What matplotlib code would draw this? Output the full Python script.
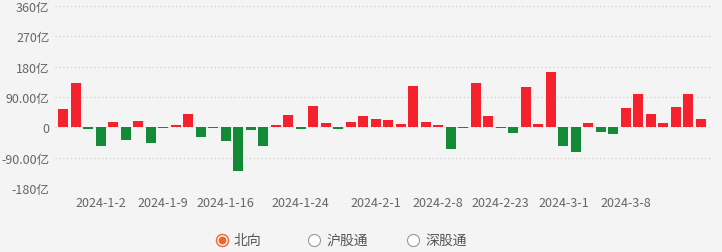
import numpy as np
import matplotlib
matplotlib.use("Agg")
import matplotlib.pyplot as plt

plt.rcParams['font.family'] = ['Noto Sans CJK SC', 'DejaVu Sans']

# trading days (category axis)
dates = ["2023-12-27", "2023-12-28", "2023-12-29",
         "2024-1-2", "2024-1-3", "2024-1-4", "2024-1-5",
         "2024-1-8", "2024-1-9", "2024-1-10", "2024-1-11", "2024-1-12",
         "2024-1-15", "2024-1-16", "2024-1-17", "2024-1-18", "2024-1-19",
         "2024-1-22", "2024-1-23", "2024-1-24", "2024-1-25", "2024-1-26",
         "2024-1-29", "2024-1-30", "2024-1-31", "2024-2-1", "2024-2-2",
         "2024-2-5", "2024-2-6", "2024-2-7", "2024-2-8",
         "2024-2-19", "2024-2-20", "2024-2-21", "2024-2-22", "2024-2-23",
         "2024-2-26", "2024-2-27", "2024-2-28", "2024-2-29", "2024-3-1",
         "2024-3-4", "2024-3-5", "2024-3-6", "2024-3-7", "2024-3-8",
         "2024-3-11", "2024-3-12", "2024-3-13", "2024-3-14", "2024-3-15",
         "2024-3-18"]

# northbound net flow, 亿
flow = [55, 132, -6, -54, 17, -39, 20, -46, -3, 6, 41, -30, -2, -42, -131,
        -8, -54, 8, 38, -6, 62, 14, -5, 16, 35, 25, 22, 10, 124, 16, 6, -64,
        -2, 132, 35, -2, -16, 120, 11, 165, -54, -72, 14, -15, -21, 58, 100,
        40, 13, 61, 100, 25]

shown_dates = ["2024-1-2", "2024-1-9", "2024-1-16", "2024-1-24", "2024-2-1",
               "2024-2-8", "2024-2-23", "2024-3-1", "2024-3-8"]

yticks = [-180, -90, 0, 90, 180, 270, 360]
ytick_labels = ["-180亿", "-90.00亿", "0", "90.00亿", "180亿", "270亿", "360亿"]

legend_items = ["北向", "沪股通", "深股通"]

bg = "#f4f4f4"
red = "#f5222d"
green = "#138a36"
txt = "#666666"

fig = plt.figure(figsize=(7.22, 2.53), dpi=100, facecolor=bg)
ax = fig.add_axes([55/722, 1 - 189/253, 657/722, 182/253], facecolor=bg)

x = np.arange(len(flow))
vals = np.array(flow)
colors = [red if v >= 0 else green for v in vals]
ax.bar(x, vals, width=0.8, color=colors, zorder=3)

ax.set_ylim(-180, 360)
ax.set_xlim(-0.64, 51.88)
ax.set_yticks(yticks)
ax.set_yticklabels(ytick_labels)
ax.set_xticks([dates.index(d) for d in shown_dates])
ax.set_xticklabels(shown_dates)
ax.tick_params(axis="both", length=0, labelsize=9, colors=txt)
ax.tick_params(axis="y", pad=4)
ax.tick_params(axis="x", pad=6)
ax.grid(axis="y", linestyle=(0, (1, 2.5)), color="#cccccc", linewidth=0.8, zorder=0)
for s in ax.spines.values():
    s.set_visible(False)

# radio-button legend at the bottom
lax = fig.add_axes([0, 0, 1, 1], facecolor="none")
lax.set_xlim(0, 722)
lax.set_ylim(253, 0)
lax.axis("off")
radio_x = [222, 314, 413]
for i, (rx, name) in enumerate(zip(radio_x, legend_items)):
    if i == 0:
        lax.scatter(rx, 241, s=75, facecolor="white", edgecolor="#f0642d", linewidth=1)
        lax.scatter(rx, 241, s=22, color="#f0642d")
    else:
        lax.scatter(rx, 241, s=75, facecolor="white", edgecolor="#999999", linewidth=0.8)
    lax.text(rx + 12, 241, name, fontsize=10, color="#555555", va="center", ha="left")

fig.savefig("out.png", dpi=100, facecolor=bg)
